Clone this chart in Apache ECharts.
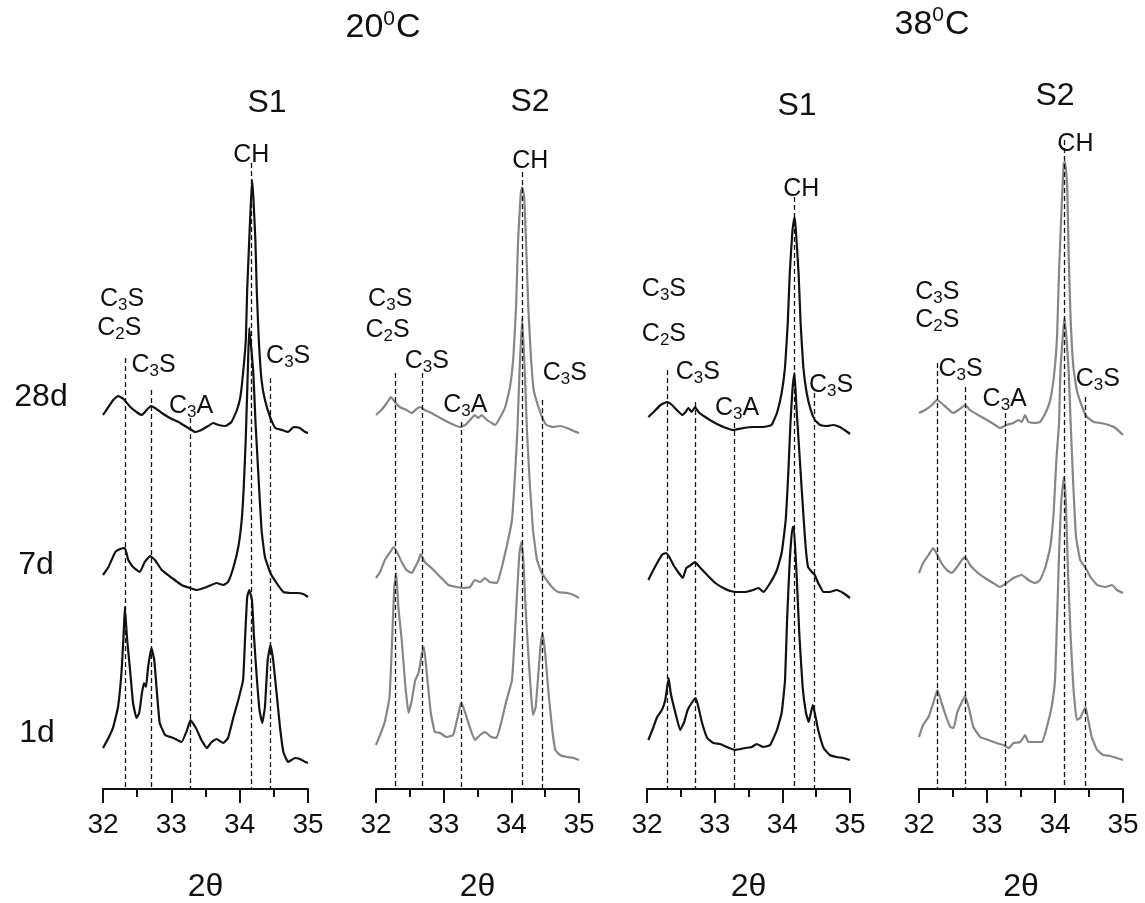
<!DOCTYPE html>
<html>
<head>
<meta charset="utf-8">
<script src="https://cdn.jsdelivr.net/npm/echarts@6/dist/echarts.min.js"></script>
<style>
html, body { margin: 0; padding: 0; background: #fff; }
#chart { width: 1145px; height: 903px; }
</style>
</head>
<body>
<div id="chart"></div>
<script>
// XRD patterns (2θ = 32–35°) of two cements cured at 20 °C and 38 °C, stacked by age.
const FONT = '"Liberation Sans", Arial, Helvetica, sans-serif';
const thetaTicks = [32, 33, 34, 35];
const ages = ['28d', '7d', '1d'];

// ---- S1, 20 °C : [2θ, stacked intensity (a.u.)]
const s1_20C_28d = [[32.00,374],[32.15,389],[32.22,393],[32.30,390],[32.40,382],[32.49,377],[32.57,374],[32.64,379],[32.70,383],[32.76,381],[32.86,376],[32.98,371],[33.13,366],[33.27,360],[33.35,357],[33.44,359],[33.54,363],[33.61,366],[33.69,364],[33.79,363],[33.88,367],[33.96,379],[34.01,392],[34.05,416],[34.09,449],[34.11,499],[34.14,549],[34.18,609],[34.20,592],[34.23,549],[34.25,499],[34.28,449],[34.32,409],[34.37,389],[34.45,371],[34.52,361],[34.62,359],[34.71,357],[34.79,362],[34.88,361],[34.96,357],[35.00,356]];
const s1_20C_7d = [[32.00,214],[32.08,222],[32.18,237],[32.25,240],[32.32,241],[32.37,229],[32.44,222],[32.54,217],[32.61,227],[32.69,233],[32.76,229],[32.86,219],[33.01,211],[33.15,204],[33.27,201],[33.37,199],[33.52,202],[33.66,206],[33.76,204],[33.83,207],[33.91,222],[33.98,242],[34.03,269],[34.06,302],[34.09,352],[34.12,420],[34.14,461],[34.20,416],[34.23,369],[34.27,319],[34.32,259],[34.37,232],[34.45,216],[34.54,206],[34.64,197],[34.74,196],[34.84,196],[34.93,195],[35.00,192]];
const s1_20C_1d = [[32.00,41],[32.08,51],[32.15,62],[32.22,82],[32.27,116],[32.30,152],[32.32,182],[32.35,152],[32.40,116],[32.44,86],[32.49,71],[32.53,76],[32.57,96],[32.60,106],[32.63,102],[32.66,122],[32.71,141],[32.75,129],[32.79,96],[32.83,66],[32.91,54],[33.03,51],[33.15,47],[33.23,59],[33.28,69],[33.36,61],[33.44,49],[33.52,41],[33.59,47],[33.66,50],[33.76,46],[33.83,51],[33.91,72],[33.98,89],[34.05,109],[34.08,152],[34.11,192],[34.14,199],[34.18,189],[34.21,152],[34.25,112],[34.29,79],[34.33,66],[34.37,82],[34.41,129],[34.45,144],[34.49,129],[34.54,96],[34.59,62],[34.64,37],[34.71,27],[34.81,31],[34.88,30],[34.96,27],[35.00,26]];

// ---- S2, 20 °C
const s2_20C_28d = [[32.00,374],[32.08,379],[32.16,386],[32.22,392],[32.28,387],[32.35,382],[32.45,379],[32.53,376],[32.60,380],[32.65,382],[32.72,379],[32.82,376],[32.95,371],[33.09,366],[33.24,362],[33.32,364],[33.39,369],[33.46,374],[33.51,371],[33.56,374],[33.64,369],[33.71,366],[33.76,364],[33.83,371],[33.91,382],[33.98,402],[34.03,432],[34.07,482],[34.10,549],[34.14,596],[34.16,602],[34.19,592],[34.22,542],[34.25,482],[34.29,432],[34.33,399],[34.40,382],[34.46,371],[34.52,364],[34.62,362],[34.72,363],[34.82,361],[34.92,358],[35.00,356]];
const s2_20C_7d = [[32.00,211],[32.06,217],[32.13,229],[32.21,237],[32.26,242],[32.31,237],[32.38,227],[32.45,219],[32.53,216],[32.58,222],[32.63,229],[32.66,235],[32.72,227],[32.82,221],[32.95,212],[33.07,204],[33.19,202],[33.29,201],[33.39,202],[33.46,209],[33.54,207],[33.61,211],[33.68,207],[33.79,206],[33.86,222],[33.93,242],[34.01,269],[34.05,309],[34.09,359],[34.12,416],[34.16,471],[34.20,416],[34.23,359],[34.27,309],[34.32,259],[34.38,229],[34.45,216],[34.52,209],[34.60,202],[34.69,197],[34.82,196],[34.92,194],[35.00,191]];
const s2_20C_1d = [[32.00,44],[32.06,54],[32.13,67],[32.20,92],[32.24,152],[32.27,202],[32.30,216],[32.33,182],[32.38,149],[32.43,106],[32.48,76],[32.53,89],[32.58,109],[32.63,116],[32.68,136],[32.71,142],[32.75,116],[32.81,76],[32.87,57],[32.95,56],[33.04,52],[33.14,54],[33.22,76],[33.26,87],[33.32,76],[33.39,61],[33.46,49],[33.54,54],[33.61,57],[33.70,52],[33.78,51],[33.86,69],[33.93,89],[34.01,109],[34.05,152],[34.09,202],[34.12,236],[34.15,247],[34.18,226],[34.21,182],[34.25,136],[34.29,96],[34.32,74],[34.36,82],[34.40,116],[34.43,142],[34.46,156],[34.50,136],[34.55,96],[34.60,62],[34.65,39],[34.72,34],[34.82,32],[34.92,31],[35.00,29]];

// ---- S1, 38 °C
const s1_38C_28d = [[32.02,372],[32.10,377],[32.20,384],[32.30,387],[32.37,384],[32.44,379],[32.52,374],[32.57,377],[32.61,381],[32.66,377],[32.71,382],[32.76,377],[32.86,372],[32.98,367],[33.13,362],[33.28,359],[33.43,361],[33.57,362],[33.72,362],[33.84,364],[33.92,376],[33.99,396],[34.04,422],[34.08,466],[34.11,516],[34.15,559],[34.18,572],[34.20,559],[34.24,516],[34.27,466],[34.31,422],[34.36,396],[34.42,379],[34.48,369],[34.56,364],[34.66,363],[34.75,364],[34.85,362],[34.94,358],[35.00,355]];
const s1_38C_7d = [[32.02,209],[32.07,216],[32.15,226],[32.22,234],[32.28,236],[32.33,232],[32.39,224],[32.47,216],[32.53,211],[32.58,221],[32.65,224],[32.71,227],[32.79,221],[32.89,214],[33.01,206],[33.13,201],[33.23,198],[33.33,197],[33.45,197],[33.57,199],[33.65,201],[33.72,197],[33.82,206],[33.92,219],[33.99,236],[34.05,269],[34.09,319],[34.12,366],[34.15,400],[34.18,416],[34.21,380],[34.24,349],[34.29,296],[34.34,246],[34.38,222],[34.45,216],[34.48,214],[34.53,206],[34.61,197],[34.70,197],[34.80,199],[34.90,196],[35.00,191]];
const s1_38C_1d = [[32.02,49],[32.09,61],[32.15,72],[32.22,79],[32.27,89],[32.32,111],[32.35,96],[32.42,76],[32.49,59],[32.55,67],[32.60,79],[32.66,86],[32.72,91],[32.76,82],[32.81,67],[32.89,51],[32.98,46],[33.08,45],[33.18,42],[33.30,39],[33.45,41],[33.55,42],[33.62,45],[33.72,42],[33.82,44],[33.92,59],[33.99,76],[34.04,109],[34.07,169],[34.11,229],[34.15,262],[34.17,262],[34.21,216],[34.25,156],[34.30,102],[34.35,76],[34.39,67],[34.45,84],[34.48,76],[34.53,59],[34.61,41],[34.70,34],[34.80,32],[34.90,31],[35.00,29]];

// ---- S2, 38 °C
const s2_38C_28d = [[32.00,376],[32.09,379],[32.19,384],[32.26,389],[32.33,386],[32.41,381],[32.50,376],[32.58,379],[32.68,384],[32.75,379],[32.87,374],[33.00,369],[33.12,364],[33.19,361],[33.29,364],[33.39,366],[33.46,369],[33.51,367],[33.56,374],[33.61,367],[33.71,366],[33.78,367],[33.86,376],[33.93,389],[33.99,416],[34.03,452],[34.06,519],[34.10,586],[34.13,626],[34.15,627],[34.18,602],[34.20,536],[34.23,469],[34.27,422],[34.32,399],[34.40,382],[34.47,372],[34.57,367],[34.67,366],[34.79,364],[34.89,361],[35.00,354]];
const s2_38C_7d = [[32.00,216],[32.06,226],[32.14,234],[32.21,241],[32.27,234],[32.33,226],[32.41,219],[32.48,216],[32.56,222],[32.63,229],[32.68,232],[32.75,224],[32.85,217],[32.97,211],[33.09,206],[33.19,202],[33.29,206],[33.39,211],[33.51,214],[33.61,209],[33.71,206],[33.78,209],[33.86,222],[33.93,242],[33.98,276],[34.02,329],[34.06,366],[34.08,419],[34.14,472],[34.20,419],[34.23,366],[34.27,302],[34.31,252],[34.37,229],[34.45,221],[34.52,212],[34.62,204],[34.74,202],[34.84,204],[34.91,199],[35.00,196]];
const s2_38C_1d = [[32.00,52],[32.06,64],[32.14,72],[32.21,86],[32.27,99],[32.32,89],[32.38,76],[32.46,62],[32.51,61],[32.56,76],[32.63,87],[32.68,93],[32.73,82],[32.80,62],[32.90,52],[33.02,49],[33.14,46],[33.24,44],[33.32,41],[33.39,46],[33.49,47],[33.56,54],[33.61,47],[33.71,47],[33.81,47],[33.88,62],[33.95,82],[34.00,109],[34.03,169],[34.06,236],[34.09,286],[34.13,312],[34.16,286],[34.19,219],[34.23,152],[34.27,102],[34.32,69],[34.37,71],[34.41,77],[34.45,82],[34.48,72],[34.54,52],[34.62,39],[34.71,34],[34.81,33],[34.91,31],[35.00,29]];

// Reflection positions (2θ) and the heights where their guide lines start
const peaks_20C_S1 = [32.32, 32.71, 33.27, 34.17, 34.45];
const tops_20C_S1  = [431, 399, 371, 626, 411];
const peaks_20C_S2 = [32.28, 32.69, 33.26, 34.16, 34.46];
const tops_20C_S2  = [416, 416, 367, 617, 389];
const peaks_38C_S1 = [32.30, 32.72, 33.29, 34.18, 34.47];
const tops_38C_S1  = [419, 387, 366, 592, 396];
const peaks_38C_S2 = [32.27, 32.68, 33.27, 34.14, 34.45];
const tops_38C_S2  = [426, 402, 376, 649, 392];

// Phase labels: [phase, 2θ, height]
const labels_20C_S1 = [['C3S',32.28,490],['C2S',32.24,461],['C3S',32.74,424],['C3A',33.29,383],['CH',34.17,634],['C3S',34.71,433]];
const labels_20C_S2 = [['C3S',32.21,490],['C2S',32.17,459],['C3S',32.75,428],['C3A',33.32,384],['CH',34.28,628],['C3S',34.79,416]];
const labels_38C_S1 = [['C3S',32.25,500],['C2S',32.25,455],['C3S',32.75,417],['C3A',33.33,381],['CH',34.28,600],['C3S',34.72,404]];
const labels_38C_S2 = [['C3S',32.27,497],['C2S',32.27,469],['C3S',32.61,420],['C3A',33.26,390],['CH',34.30,645],['C3S',34.63,410]];

const BLACK = '#111';
const GREY = '#868686';

const panels = [
  { left: 103, width: 205, color: BLACK, traces: [s1_20C_28d, s1_20C_7d, s1_20C_1d], peaks: peaks_20C_S1, tops: tops_20C_S1, labels: labels_20C_S1 },
  { left: 376, width: 203, color: GREY,  traces: [s2_20C_28d, s2_20C_7d, s2_20C_1d], peaks: peaks_20C_S2, tops: tops_20C_S2, labels: labels_20C_S2 },
  { left: 647, width: 203, color: BLACK, traces: [s1_38C_28d, s1_38C_7d, s1_38C_1d], peaks: peaks_38C_S1, tops: tops_38C_S1, labels: labels_38C_S1 },
  { left: 919, width: 204, color: GREY,  traces: [s2_38C_28d, s2_38C_7d, s2_38C_1d], peaks: peaks_38C_S2, tops: tops_38C_S2, labels: labels_38C_S2 }
];

// digits in a phase formula become subscripts
const phaseRich = {
  m: { fontFamily: FONT, fontSize: 25, lineHeight: 25, verticalAlign: 'top', color: BLACK, textBorderWidth: 0 },
  s: { fontFamily: FONT, fontSize: 17, lineHeight: 17, padding: [13, 0, 0, 0], color: BLACK, textBorderWidth: 0 }
};
function formula(name) {
  return name.split(/(\d)/).filter(Boolean)
    .map(part => /\d/.test(part) ? '{s|' + part + '}' : '{m|' + part + '}').join('');
}

const grid = [], xAxis = [], yAxis = [], series = [];
panels.forEach((p, i) => {
  grid.push({ left: p.left, width: p.width, top: 89, height: 700, containLabel: false, outerBoundsMode: 'none' });
  xAxis.push({
    type: 'value', gridIndex: i, min: thetaTicks[0], max: thetaTicks[thetaTicks.length - 1], interval: 1,
    axisLine: { show: true, onZero: false, lineStyle: { color: BLACK, width: 2 } },
    axisTick: { show: true, length: 14, lineStyle: { color: BLACK, width: 2 } },
    minorTick: { show: true, splitNumber: 2, length: 8, lineStyle: { color: BLACK, width: 2 } },
    splitLine: { show: false },
    axisLabel: { fontFamily: FONT, fontSize: 28, color: BLACK, margin: 22 },
    name: '2θ', nameLocation: 'middle', nameGap: 82,
    nameTextStyle: { fontFamily: FONT, fontSize: 32, color: BLACK }
  });
  yAxis.push({ type: 'value', gridIndex: i, min: 0, max: 700, show: false });

  p.traces.forEach((trace, k) => {
    series.push({
      type: 'line', name: ages[k], xAxisIndex: i, yAxisIndex: i, data: trace,
      showSymbol: false, smooth: 0.12, silent: true,
      lineStyle: { color: p.color, width: 2.2 },
      markLine: k === 0 ? {
        silent: true, symbol: ['none', 'none'], animation: false,
        label: { show: false },
        lineStyle: { color: BLACK, width: 1.3, type: [5, 3] },
        data: p.peaks.map((t, j) => [{ coord: [t, p.tops[j]] }, { coord: [t, 0] }])
      } : undefined
    });
  });

  series.push({
    type: 'scatter', xAxisIndex: i, yAxisIndex: i, symbolSize: 0, silent: true,
    itemStyle: { opacity: 1 },
    data: p.labels.map(l => ({ name: l[0], value: [l[1], l[2]] })),
    label: {
      show: true, position: 'inside', color: BLACK, opacity: 1,
      textBorderWidth: 0, textBorderColor: 'transparent',
      formatter: d => formula(d.name),
      rich: phaseRich
    }
  });
});

const titleRich = {
  m: { fontFamily: FONT, fontSize: 34, lineHeight: 34, verticalAlign: 'bottom', fill: BLACK },
  p: { fontFamily: FONT, fontSize: 21, lineHeight: 21, padding: [0, 1, 18, 0], fill: BLACK }
};
function textEl(x, y, text, size, rich) {
  return {
    type: 'text', x: x, y: y, silent: true,
    style: rich ? { text: text, rich: rich, align: 'center', verticalAlign: 'middle', fill: BLACK }
                : { text: text, font: size + 'px ' + FONT, align: 'center', verticalAlign: 'middle', fill: BLACK }
  };
}

const graphic = [
  textEl(383, 28, '{m|20}{p|0}{m|C}', 0, titleRich),
  textEl(932, 24.5, '{m|38}{p|0}{m|C}', 0, titleRich),
  textEl(267, 103, 'S1', 32),
  textEl(530, 102, 'S2', 32),
  textEl(797, 106, 'S1', 32),
  textEl(1055, 96, 'S2', 32),
  textEl(41, 397, ages[0], 32),
  textEl(36, 565, ages[1], 32),
  textEl(37, 733, ages[2], 32)
];

const chart = echarts.init(document.getElementById('chart'), null, { renderer: 'canvas' });
chart.setOption({
  animation: false,
  backgroundColor: '#fff',
  grid: grid, xAxis: xAxis, yAxis: yAxis, series: series, graphic: graphic
});
</script>
</body>
</html>
